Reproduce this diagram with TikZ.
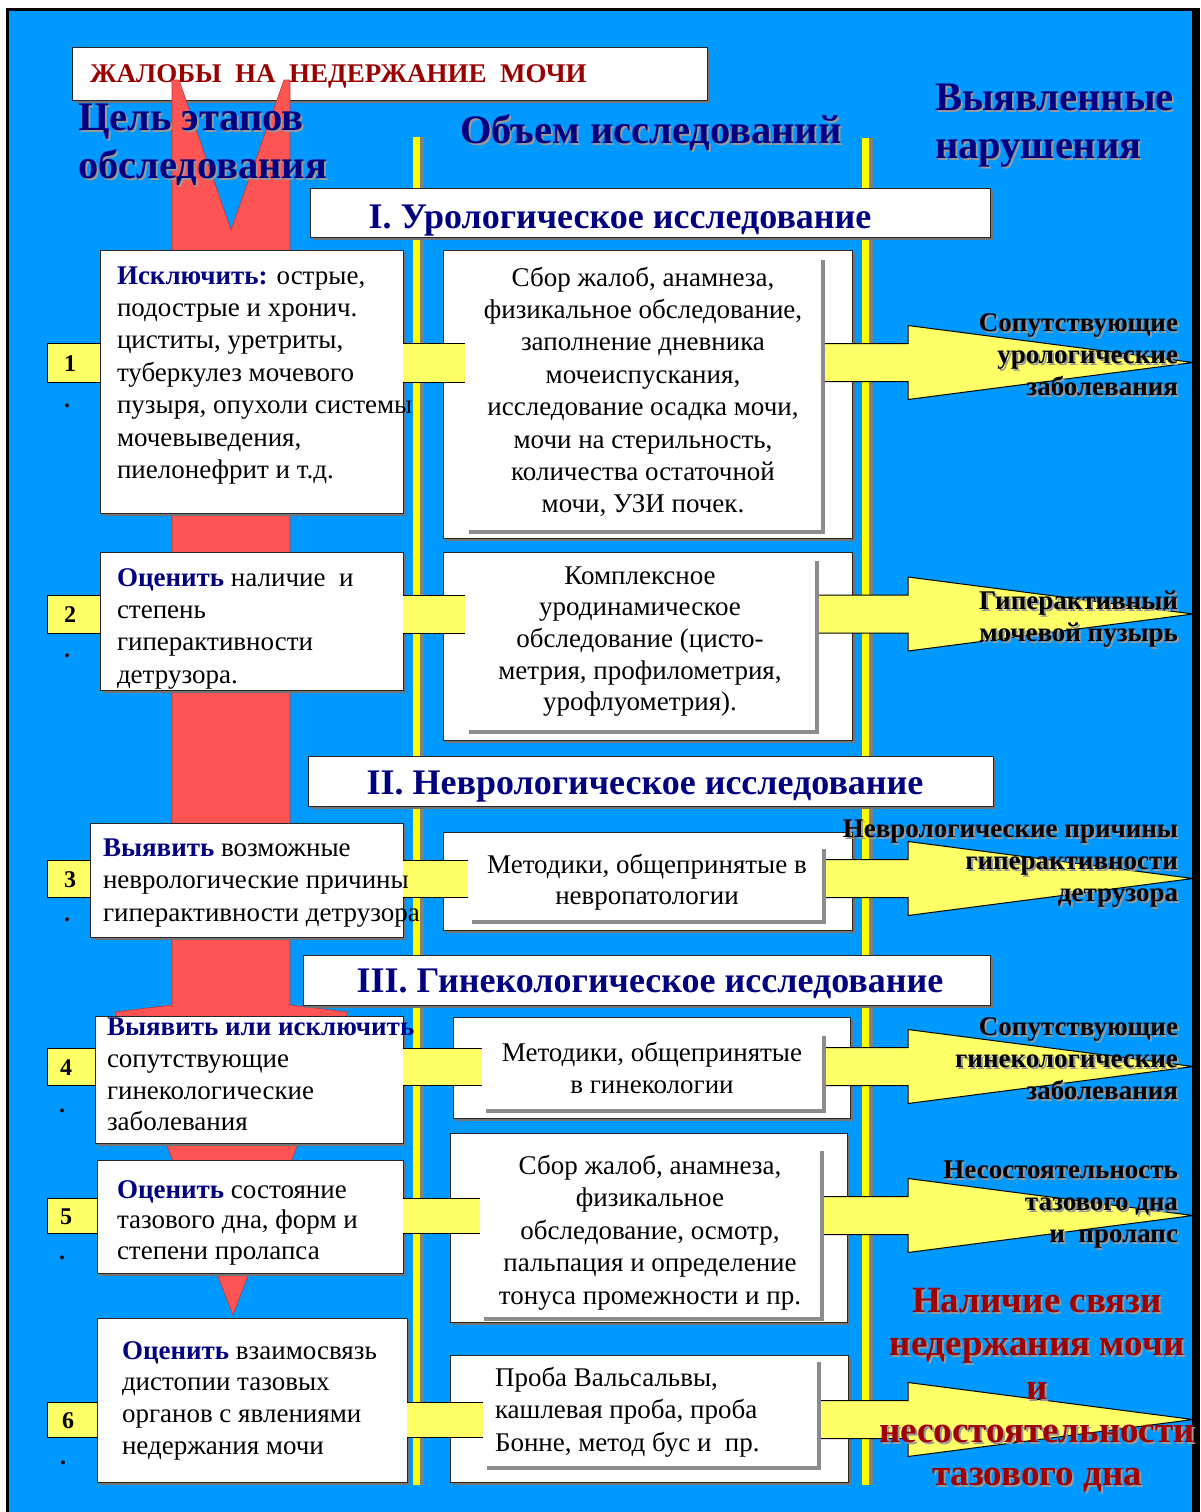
\documentclass[tikz,border=0pt]{standalone}
\usepackage{fontspec}
\setmainfont{Liberation Serif}
\usetikzlibrary{calc,shadows}

\definecolor{bgblue}{RGB}{0,153,255}
\definecolor{redband}{RGB}{255,84,84}
\definecolor{ylw}{RGB}{255,255,102}
\definecolor{vline}{RGB}{255,255,0}
\definecolor{navy}{RGB}{0,0,128}
\definecolor{darkred}{RGB}{153,0,0}
\definecolor{labred}{RGB}{160,0,0}

% rectangle node given by its corners: name, style, x1, y1, x2, y2
\newcommand\boxat[6]{\node[#2, minimum width={#5-#3}, minimum height={#6-#4}] (#1) at ({(#3+#5)/2},{(#4+#6)/2}) {};}
% text with a grey drop shadow: options, position, name, text
\newcommand\stext[4]{\node[#1,text=black!40] (#3s) at ($#2+(2,2)$) {#4};\node[#1] (#3) at #2 {#4};}
% bold navy key word
\newcommand\kw[1]{{\bfseries\color{navy}#1}}
% yellow arrow from the middle column to the right edge: y centre, tip name
\newcommand\rarrow[2]{%
  \coordinate (#2) at (1193,#1);
  \fill[ylw] (815,#1-19) -- (908,#1-19) -- (908,#1-37) -- (#2) -- (908,#1+37) -- (908,#1+19) -- (815,#1+19) -- cycle;
  \draw[arrowline] (815,#1-19) -- (908,#1-19) -- (908,#1-37) -- (#2) -- (908,#1+37) -- (908,#1+19) -- (815,#1+19);}

\tikzset{
  every node/.style={inner sep=0pt, outer sep=0pt},
  framebox/.style={fill=white, draw=black!85, line width=1pt,
    drop shadow={shadow xshift=3pt, shadow yshift=-3pt, opacity=1, fill=black!55}},
  innerbox/.style={fill=white,
    drop shadow={shadow xshift=4pt, shadow yshift=-4pt, opacity=1, fill=black!45}},
  numbox/.style={fill=ylw, draw=black, line width=1pt},
  goaltext/.style={anchor=north west, align=left, font=\fontsize{27}{32.4}\selectfont},
  midtext/.style={anchor=north, align=center, font=\fontsize{27}{32.4}\selectfont},
  labtext/.style={anchor=north east, align=right, font=\fontsize{27}{32}\selectfont\bfseries},
  headtext/.style={anchor=north west, align=left, font=\fontsize{40.5}{48}\selectfont\bfseries, text=navy},
  sectext/.style={anchor=base, font=\fontsize{36}{40}\selectfont\bfseries, text=navy},
  digit/.style={anchor=base, font=\fontsize{24}{28}\selectfont\bfseries},
  ybarfill/.style={fill=ylw},
  barline/.style={draw=black, line width=1pt},
  arrowline/.style={draw=black, line width=1pt, line join=miter},
}

\begin{document}
\begin{tikzpicture}[x=1pt,y=-1pt]
\useasboundingbox (0,0) rectangle (1200,1512);
% page, frame and background
\fill[white] (0,0) rectangle (1200,1512);
\fill[black] (6,8) rectangle (1200,1512);
\fill[bgblue] (9,11) rectangle (1192,1512);

% column separators
\fill[black!50] (413,137) rectangle (424,1485);
\fill[vline] (413,137) rectangle (420,1485);
\fill[black!50] (862,138) rectangle (873,1485);
\fill[vline] (862,138) rectangle (869,1485);

% title
\boxat{title}{framebox}{72}{48}{707}{100}
\node[anchor=base west, font=\fontsize{27}{30}\selectfont\bfseries, text=darkred] (titletext) at (90,82) {ЖАЛОБЫ \ НА \ НЕДЕРЖАНИЕ \ МОЧИ};

% the big red arrow running down the goal column
\filldraw[fill=redband, draw=redband!70!black, line width=0.6pt]
  (172,80) -- (179,80) -- (231,230) -- (284,80) -- (290,80) -- (290,1005)
  -- (348,1012) -- (233,1315) -- (115,1012) -- (172,1005) -- cycle;

% number tabs
\boxat{n1}{numbox}{47}{343}{110}{382}
\boxat{n2}{numbox}{47}{595}{110}{633}
\boxat{n3}{numbox}{47}{860}{110}{897}
\boxat{n4}{numbox}{47}{1048}{110}{1085}
\boxat{n5}{numbox}{47}{1198}{110}{1233}
\boxat{n6}{numbox}{47}{1402}{110}{1437}

% middle column: outer frames
\boxat{m1}{framebox}{443}{250}{852}{538}
\boxat{m2}{framebox}{443}{552}{852}{740}
\boxat{m3}{framebox}{443}{832}{852}{930}
\boxat{m4}{framebox}{453}{1017}{850}{1118}
\boxat{m5}{framebox}{450}{1133}{847}{1322}
\boxat{m6}{framebox}{450}{1355}{848}{1482}

% right arrows to the findings
\rarrow{362.5}{tip1}
\rarrow{614}{tip2}
\rarrow{878.5}{tip3}
\rarrow{1066.5}{tip4}
\rarrow{1215.5}{tip5}
\rarrow{1419.5}{tip6}

% goal boxes
\boxat{g1}{framebox}{100}{250}{403}{513}
\boxat{g2}{framebox}{100}{552}{403}{690}
\boxat{g3}{framebox}{90}{823}{403}{937}
\boxat{g4}{framebox}{95}{1016}{403}{1143}
\boxat{g5}{framebox}{97}{1160}{403}{1273}
\boxat{g6}{framebox}{97}{1318}{407}{1482}

% middle column: inner text fields
\boxat{i1}{innerbox}{465}{256}{821}{530}
\boxat{i2}{innerbox}{465}{557}{815}{730}
\boxat{i3}{innerbox}{468}{845}{822}{920}
\boxat{i4}{innerbox}{482}{1032}{822}{1109}
\boxat{i5}{innerbox}{480}{1147}{820}{1317}
\boxat{i6}{innerbox}{483}{1358}{817}{1466}

% yellow links from goals to examinations
\foreach \r in {1,...,6}{
  \fill[ybarfill] (g\r.east |- n\r.north) rectangle (i\r.west |- n\r.south);
  \draw[barline] (g\r.east |- n\r.north) -- (i\r.west |- n\r.north)
                 (g\r.east |- n\r.south) -- (i\r.west |- n\r.south);
}

% section headers
\boxat{s1}{framebox}{310}{188}{990}{237}
\boxat{s2}{framebox}{308}{756}{993}{806}
\boxat{s3}{framebox}{303}{955}{990}{1005}
\node[sectext] (s1t) at (620,228) {I. Урологическое исследование};
\node[sectext] (s2t) at (645,794) {II. Неврологическое исследование};
\node[sectext] (s3t) at (650,992) {III. Гинекологическое исследование};

% column headings
\stext{headtext}{(78,104)}{h1}{Цель этапов\\обследования}
\stext{headtext, anchor=base west}{(460,143)}{h2}{Объем исследований}
\stext{headtext}{(935,84)}{h3}{Выявленные\\нарушения}

% numbers
\node[digit] (d1) at (70,371) {1};
\node[digit] (d2) at (70,622.5) {2};
\node[digit] (d3) at (70,887) {3};
\node[digit] (d4) at (66,1075) {4};
\node[digit] (d5) at (66,1224) {5};
\node[digit] (d6) at (68,1428) {6};
\node[digit] (p1) at (67,407) {.};
\node[digit] (p2) at (67,657) {.};
\node[digit] (p3) at (67,921) {.};
\node[digit] (p4) at (62,1112) {.};
\node[digit] (p5) at (62,1259) {.};
\node[digit] (p6) at (63,1464) {.};

% goal texts
\node[goaltext] (g1t) at (117,261.5) {\strut\kw{Исключить:} острые,\\подострые и хронич.\\циститы, уретриты,\\туберкулез мочевого\\пузыря, опухоли системы\\мочевыведения,\\пиелонефрит и т.д.};
\node[goaltext] (g2t) at (117,563.5) {\strut\kw{Оценить} наличие \ и\\степень\\гиперактивности\\детрузора.};
\node[goaltext, font=\fontsize{27}{32.5}\selectfont] (g3t) at (103,833.5) {\strut\kw{Выявить} возможные\\неврологические причины\\гиперактивности детрузора};
\node[goaltext, font=\fontsize{27}{31.7}\selectfont] (g4t) at (107,1013.5) {\strut\kw{Выявить или исключить}\\сопутствующие\\гинекологические\\заболевания};
\node[goaltext, font=\fontsize{27}{30.5}\selectfont] (g5t) at (117,1176.8) {\strut\kw{Оценить} состояние\\тазового дна, форм и\\степени пролапса};
\node[goaltext, font=\fontsize{27}{31.7}\selectfont] (g6t) at (122,1337) {\strut\kw{Оценить} взаимосвязь\\дистопии тазовых\\органов с явлениями\\недержания мочи};

% examination texts
\node[midtext] (m1t) at (643,263.5) {\strut Сбор жалоб, анамнеза,\\физикальное обследование,\\заполнение дневника\\мочеиспускания,\\исследование осадка мочи,\\мочи на стерильность,\\количества остаточной\\мочи, УЗИ почек.};
\node[midtext, font=\fontsize{27}{31.7}\selectfont] (m2t) at (640,562) {\strut Комплексное\\уродинамическое\\обследование (цисто-\\метрия, профилометрия,\\урофлуометрия).};
\node[midtext, font=\fontsize{27}{31}\selectfont] (m3t) at (647,851.5) {\strut Методики, общепринятые в\\невропатологии};
\node[midtext, font=\fontsize{27}{32}\selectfont] (m4t) at (652,1038.8) {\strut Методики, общепринятые\\в гинекологии};
\node[midtext, font=\fontsize{27}{32.5}\selectfont] (m5t) at (650,1151.5) {\strut Сбор жалоб, анамнеза,\\физикальное\\обследование, осмотр,\\пальпация и определение\\тонуса промежности и пр.};
\node[goaltext, font=\fontsize{27}{32.5}\selectfont] (m6t) at (495,1363.5) {\strut Проба Вальсальвы,\\кашлевая проба, проба\\Бонне, метод бус и \ пр.};

% findings
\stext{labtext}{(1178,309.1)}{r1}{\strut Сопутствующие\\урологические\\заболевания}
\stext{labtext}{(1178,586.6)}{r2}{\strut Гиперактивный\\мочевой пузырь}
\stext{labtext}{(1178,815.1)}{r3}{\strut Неврологические причины\\гиперактивности\\детрузора}
\stext{labtext}{(1178,1013.1)}{r4}{\strut Сопутствующие\\гинекологические\\заболевания}
\stext{labtext}{(1178,1156.1)}{r5}{\strut Несостоятельность\\тазового дна\\и \ пролапс}
\stext{anchor=north, align=center, font=\fontsize{37}{43.3}\selectfont\bfseries, text=labred}{(1037,1282.3)}{r6}{\strut Наличие связи\\недержания мочи\\и\\несостоятельности\\тазового дна}
\end{tikzpicture}
\end{document}
